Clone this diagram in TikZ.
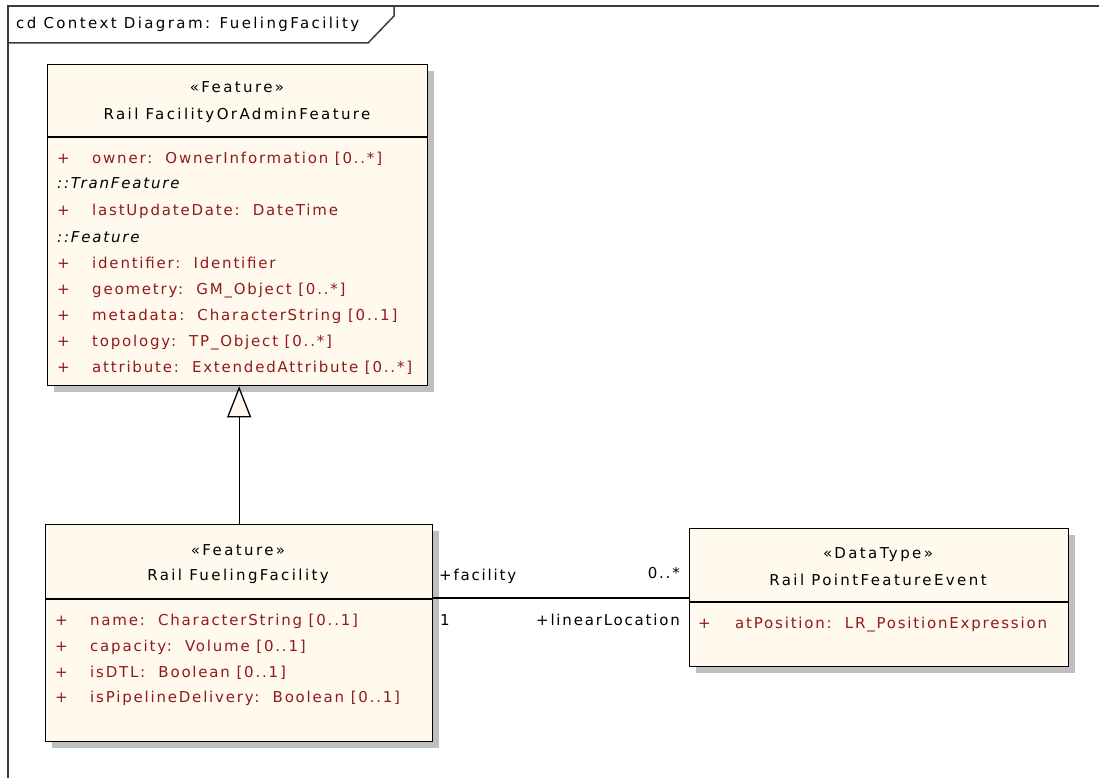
\documentclass[tikz,border=0pt]{standalone}
\usepackage{fontspec}
\usetikzlibrary{arrows.meta,shadows}
\newfontfamily\umlhead[LetterSpace=16]{DejaVu Sans}
\newfontfamily\umlfont[LetterSpace=12]{DejaVu Sans}
\definecolor{classfill}{RGB}{255,249,238}
\definecolor{attrred}{RGB}{145,26,26}
\definecolor{framegray}{RGB}{60,60,60}
\tikzset{
  umlbox/.style={draw=black, line width=1.3pt, fill=classfill, inner sep=0pt,
    anchor=north west, rectangle,
    general shadow={fill=black!25, shadow xshift=6pt, shadow yshift=-6pt}},
  txt/.style={inner sep=0pt, font=\umlfont\fontsize{15}{17}\selectfont},
  ctr/.style={txt, anchor=base, font=\umlhead\fontsize{15}{17}\selectfont},
  lft/.style={txt, anchor=base west},
  rgt/.style={txt, anchor=base east},
  attr/.style={lft, text=attrred},
  owner/.style={lft, font=\umlfont\itshape\fontsize{15}{17}\selectfont},
  link/.style={draw=black, line width=1.3pt},
}
\begin{document}
\begin{tikzpicture}[x=1pt, y=-1pt]
\useasboundingbox (0,0) rectangle (1099,778);

% diagram frame with its name tab
\draw[framegray, line width=1.5pt] (8,778) -- (8,6) -- (1099,6);
\draw[framegray, line width=1.5pt] (8,43) -- (368,43) -- (394,16) -- (394,6);
\node[lft, font=\umlhead\fontsize{15}{17}\selectfont] (frametitle) at (16,29) {cd Context Diagram: FuelingFacility};

% class boxes
\node[umlbox, minimum width=380pt, minimum height=321pt] (facadmin) at (47,64) {};
\node[umlbox, minimum width=387pt, minimum height=217pt] (fueling) at (45,524) {};
\node[umlbox, minimum width=379pt, minimum height=138pt] (pointevent) at (689,528) {};

% compartment dividers
\draw[line width=1.3pt] (facadmin.west |- 0,137) -- (facadmin.east |- 0,137);
\draw[line width=1.3pt] (fueling.west |- 0,599) -- (fueling.east |- 0,599);
\draw[line width=1.3pt] (pointevent.west |- 0,602) -- (pointevent.east |- 0,602);

% RailFacilityOrAdminFeature
\node[ctr] (fa-st) at (237,93) {«Feature»};
\node[ctr] (fa-nm) at (237,120) {Rail FacilityOrAdminFeature};
\node[attr] (fa-p1) at (57,164) {+};
\node[attr] (fa-a1) at (92,164) {owner:\ \ OwnerInformation [0..*]};
\node[owner] (fa-o1) at (57,189) {::TranFeature};
\node[attr] (fa-p2) at (57,215) {+};
\node[attr] (fa-a2) at (92,215) {lastUpdateDate:\ \ DateTime};
\node[owner] (fa-o2) at (57,242) {::Feature};
\node[attr] (fa-p3) at (57,268) {+};
\node[attr] (fa-a3) at (92,268) {identifier:\ \ Identifier};
\node[attr] (fa-p4) at (57,294) {+};
\node[attr] (fa-a4) at (92,294) {geometry:\ \ GM\_Object [0..*]};
\node[attr] (fa-p5) at (57,320) {+};
\node[attr] (fa-a5) at (92,320) {metadata:\ \ CharacterString [0..1]};
\node[attr] (fa-p6) at (57,346) {+};
\node[attr] (fa-a6) at (92,346) {topology:\ \ TP\_Object [0..*]};
\node[attr] (fa-p7) at (57,372) {+};
\node[attr] (fa-a7) at (92,372) {attribute:\ \ ExtendedAttribute [0..*]};

% RailFuelingFacility
\node[ctr] (ff-st) at (238,555) {«Feature»};
\node[ctr] (ff-nm) at (238,580) {Rail FuelingFacility};
\node[attr] (ff-p1) at (55,625) {+};
\node[attr] (ff-a1) at (90,625) {name:\ \ CharacterString [0..1]};
\node[attr] (ff-p2) at (55,651) {+};
\node[attr] (ff-a2) at (90,651) {capacity:\ \ Volume [0..1]};
\node[attr] (ff-p3) at (55,677) {+};
\node[attr] (ff-a3) at (90,677) {isDTL:\ \ Boolean [0..1]};
\node[attr] (ff-p4) at (55,702) {+};
\node[attr] (ff-a4) at (90,702) {isPipelineDelivery:\ \ Boolean [0..1]};

% RailPointFeatureEvent
\node[ctr] (pe-st) at (878,558) {«DataType»};
\node[ctr] (pe-nm) at (878,585) {Rail PointFeatureEvent};
\node[attr] (pe-p1) at (698,628) {+};
\node[attr] (pe-a1) at (735,628) {atPosition:\ \ LR\_PositionExpression};

% generalization
\draw[link, -{Triangle[length=31pt, width=24pt, fill=classfill, line width=1.3pt]}]
  (fueling.north) -- (fueling.north |- facadmin.south);

% association with its role and multiplicity labels
\draw[link] (fueling.east |- 0,598) -- (pointevent.west |- 0,598);
\node[lft] (r-facility) at (439,580) {+facility};
\node[rgt] (m-many) at (680,578) {0..*};
\node[lft] (m-one) at (440,625) {1};
\node[rgt] (r-linloc) at (680,625) {+linearLocation};
\end{tikzpicture}
\end{document}
